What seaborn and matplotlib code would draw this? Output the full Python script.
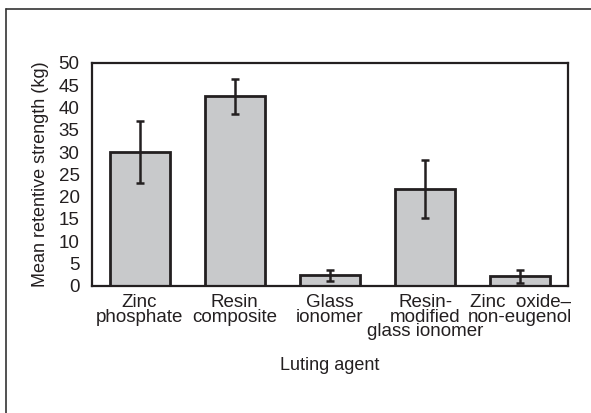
import numpy as np
import pandas as pd
import matplotlib
matplotlib.use('Agg')
import matplotlib.pyplot as plt
import seaborn as sns
from matplotlib.lines import Line2D

# data
agents = ['Zinc\nphosphate', 'Resin\ncomposite', 'Glass\nionomer',
          'Resin-\nmodified\nglass ionomer', 'Zinc  oxide\u2013\nnon-eugenol']
means = [30.0, 42.5, 2.3, 21.7, 2.1]
errors = [6.9, 3.9, 1.2, 6.5, 1.5]
yticks = [0, 5, 10, 15, 20, 25, 30, 35, 40, 45, 50]

dark = '#231f20'
bar_fill = '#c8c9cb'

sns.set_style('white')
plt.rcParams['font.family'] = ['Liberation Sans', 'DejaVu Sans']

df = pd.DataFrame({'agent': agents, 'mean': means, 'err': errors})

fig = plt.figure(figsize=(5.91, 4.13), dpi=100)
ax = fig.add_axes([0.1557, 0.3085, 0.8053, 0.539])

sns.barplot(data=df, x='agent', y='mean', color=bar_fill, saturation=1,
            width=0.63, edgecolor=dark, linewidth=2, errorbar=None, ax=ax)
ax.errorbar(np.arange(len(df)), df['mean'], yerr=df['err'], fmt='none',
            ecolor=dark, elinewidth=1.8, capsize=2.8, capthick=1.8, zorder=5)

ax.set_ylim(0, 50)
ax.set_yticks(yticks)
ax.set_xlim(-0.5, len(df) - 0.5)
ax.tick_params(axis='both', length=0, labelsize=13.5, colors=dark)
ax.tick_params(axis='y', pad=9)
ax.tick_params(axis='x', pad=6)
for lbl in ax.get_xticklabels():
    lbl.set_linespacing(0.82)

ax.set_ylabel('Mean retentive strength (kg)', fontsize=13, color=dark, labelpad=7)
ax.set_xlabel('Luting agent', fontsize=13, color=dark, labelpad=12)

for s in ax.spines.values():
    s.set_visible(True)
    s.set_color(dark)
    s.set_linewidth(1.6)

# partial outer frame as in the source figure
fig.add_artist(Line2D([6 / 591, 1.0], [1 - 9 / 413, 1 - 9 / 413],
                      transform=fig.transFigure, color='#333333', lw=1.2))
fig.add_artist(Line2D([6 / 591, 6 / 591], [0, 1 - 9 / 413],
                      transform=fig.transFigure, color='#333333', lw=1.2))

fig.savefig('out.png', dpi=100)
